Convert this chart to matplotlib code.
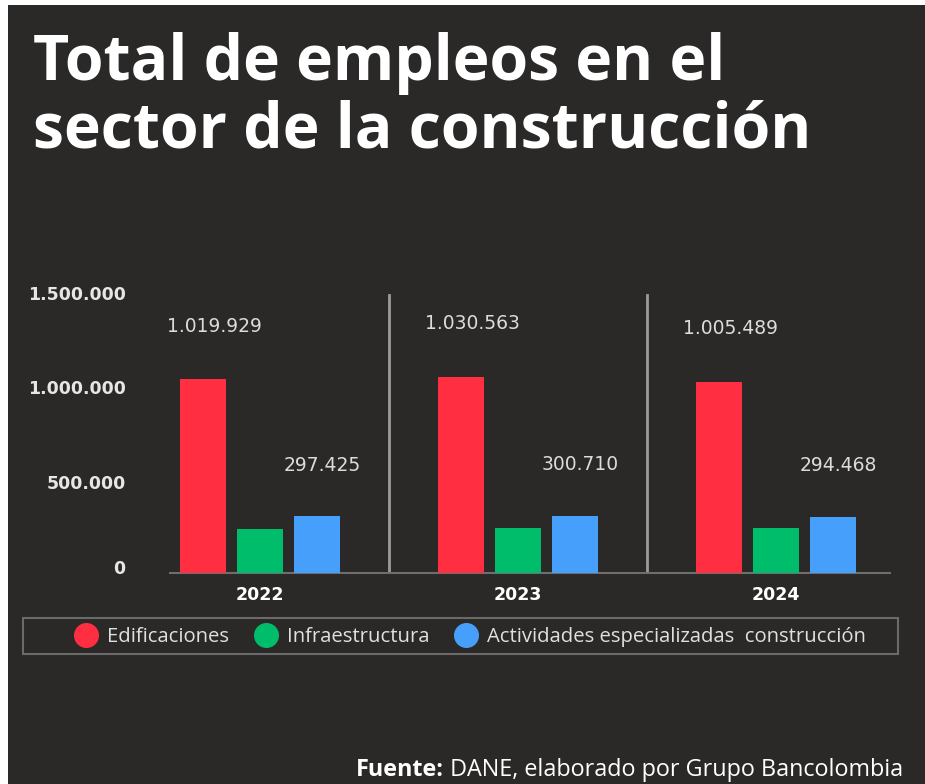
import numpy as np
import matplotlib.pyplot as plt
import matplotlib.transforms as mtransforms
from matplotlib.patches import Rectangle
from matplotlib.lines import Line2D

# data (green bars carry no label, estimated)
years = ["2022", "2023", "2024"]
edificaciones = [1019929, 1030563, 1005489]
infraestructura = [231000, 236000, 236000]
actividades = [297425, 300710, 294468]
series_names = ["Edificaciones", "Infraestructura", "Actividades especializadas  construcción"]
colors = ["#ff2e40", "#00bd6c", "#479ffc"]
yticks = [0, 500000, 1000000, 1500000]

BG = "#2a2927"
W, H = 925, 784


def fmt(v):
    return f"{v:,}".replace(",", ".")


fig = plt.figure(figsize=(W / 100, H / 100), dpi=100, facecolor="white")
# dark card with thin white strip on top / left
fig.add_artist(Rectangle((8 / W, 0), 1, (H - 5) / H, transform=fig.transFigure,
                         facecolor=BG, edgecolor="none", zorder=0))

# title
title_kw = dict(family="Open Sans", weight="bold", color="white", fontsize=45,
                ha="left", va="baseline")
fig.text(33 / W, 1 - 80 / H, "Total de empleos en el", **title_kw)
fig.text(33 / W, 1 - 148 / H, "sector de la construcción", **title_kw)

# chart
ax = fig.add_axes([170 / W, (H - 573) / H, 720 / W, 285 / H])
ax.set_facecolor("none")
x = np.arange(len(years))
step = 0.221
width = 0.178
all_series = [edificaciones, infraestructura, actividades]
for i, (vals, c) in enumerate(zip(all_series, colors)):
    ax.bar(x + (i - 1) * step, vals, width=width, color=c, zorder=3)

for i in range(len(years)):
    ax.text(x[i] - step + 0.045, edificaciones[i] + 280000, fmt(edificaciones[i]),
            ha="center", va="center", color="#dcdcdc", fontsize=13.5, family="DejaVu Sans")
    ax.text(x[i] + step + 0.02, actividades[i] + 270000, fmt(actividades[i]),
            ha="center", va="center", color="#dcdcdc", fontsize=13.5, family="DejaVu Sans")

for sx in [0.5, 1.5]:
    ax.axvline(sx, ymin=0, ymax=0.975, color="#9c9c9c", lw=2, zorder=2)

ax.set_xlim(-0.349, 2.442)
ax.set_ylim(0, 1500000)
ax.set_yticks(yticks)
ax.set_yticklabels([fmt(v) for v in yticks])
ax.set_xticks(x)
ax.set_xticklabels(years)
for s in ["top", "left", "right"]:
    ax.spines[s].set_visible(False)
ax.spines["bottom"].set_color("#6e6e6e")
ax.spines["bottom"].set_linewidth(1.5)
ax.tick_params(axis="y", length=0, pad=32, labelcolor="#e6e6e6")
ax.tick_params(axis="x", length=0, pad=9, labelcolor="white")
for lab in ax.get_yticklabels() + ax.get_xticklabels():
    lab.set_fontweight("bold")
    lab.set_fontsize(12.5)
    lab.set_family("DejaVu Sans")

# the source image sets its y labels a touch off the gridline values
shifts = [6, -4, -4, -5]  # px, for 0, 500k, 1M, 1.5M
for lab, dy in zip(ax.get_yticklabels(), shifts):
    off = mtransforms.ScaledTranslation(0, dy / 100, fig.dpi_scale_trans)
    lab.set_transform(lab.get_transform() + off)

# legend box + entries
fig.add_artist(Rectangle((23 / W, 1 - 654 / H), 875 / W, 36 / H, transform=fig.transFigure,
                         facecolor="none", edgecolor="#6a6a6a", lw=1.5))
handles = [Line2D([], [], marker="o", ls="", markersize=17, color=c) for c in colors]
leg = fig.legend(handles, series_names, loc="center", ncol=3, frameon=False,
                 bbox_to_anchor=(470 / W, 1 - 637 / H),
                 prop=dict(family="Open Sans", size=14.6),
                 handletextpad=0.45, columnspacing=1.2, handlelength=1.2,
                 borderpad=0.2)
for t in leg.get_texts():
    t.set_color("#e0e0e0")

# source line: bold "Fuente:" + regular rest
src = fig.text(903 / W, 1 - 776 / H, " DANE, elaborado por Grupo Bancolombia",
               ha="right", va="baseline", color="white", fontsize=16.8, family="Open Sans")
fig.canvas.draw()
bb = src.get_window_extent()
fig.text(bb.x0 / W, 1 - 776 / H, "Fuente:", ha="right", va="baseline",
         color="white", fontsize=16.8, family="Open Sans", weight="bold")

fig.savefig("out.png", dpi=100, facecolor=fig.get_facecolor())
